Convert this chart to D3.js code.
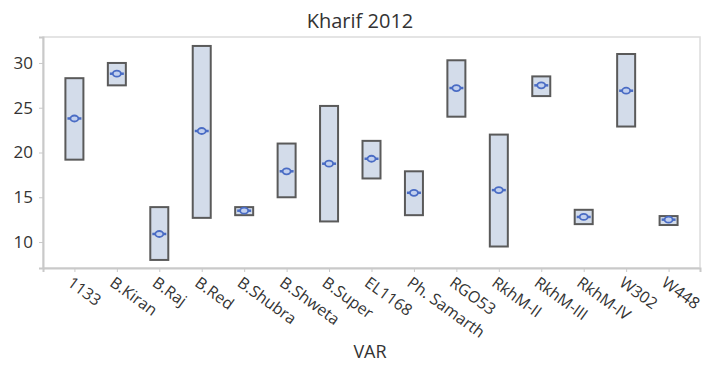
<!DOCTYPE html>
<html>
<head>
<meta charset="utf-8">
<script src="https://cdn.jsdelivr.net/npm/d3@7"></script>
<style>
  html, body { margin: 0; padding: 0; background: #fff; }
  svg { display: block; font-family: "Open Sans", "Noto Sans", sans-serif; }
</style>
</head>
<body>
<svg id="chart" width="704" height="365"></svg>
<script>
// Interval plot: range (low–high) box and mean marker per variety
const varieties = ["1133", "B.Kiran", "B.Raj", "B.Red", "B.Shubra", "B.Shweta", "B.Super",
  "EL1168", "Ph. Samarth", "RGO53", "RkhM-II", "RkhM-III", "RkhM-IV", "W302", "W448"];
const lowValues  = [19.2, 27.5,  8.0, 12.7, 13.0, 15.0, 12.3, 17.1, 13.0, 24.0,  9.5, 26.3, 12.0, 22.9, 11.9];
const highValues = [28.3, 30.0, 13.9, 31.9, 13.9, 21.0, 25.2, 21.3, 17.9, 30.3, 22.0, 28.5, 13.6, 31.0, 12.9];
const meanValues = [23.8, 28.8, 10.9, 22.4, 13.5, 17.9, 18.75, 19.3, 15.5, 27.2, 15.8, 27.5, 12.8, 26.9, 12.5];
const yTicks = [10, 15, 20, 25, 30];
const titleText = "Kharif 2012";
const xTitle = "VAR";

const rows = varieties.map((v, i) => ({ name: v, lo: lowValues[i], hi: highValues[i], mean: meanValues[i] }));

const svg = d3.select("#chart");
const plot = { left: 43, right: 700, top: 37, bottom: 268 };

const x = d3.scalePoint().domain(varieties).range([plot.left, plot.right]).padding(0.74);
const y = d3.scaleLinear().domain([7.1, 32.9]).range([plot.bottom, plot.top]);

// plot frame
svg.append("rect")
  .attr("x", plot.left).attr("y", plot.top)
  .attr("width", plot.right - plot.left).attr("height", plot.bottom - plot.top)
  .attr("fill", "#fff").attr("stroke", "#dcdcdc").attr("stroke-width", 1.5);

// axes
const yAxis = svg.append("g")
  .attr("transform", `translate(${plot.left},0)`)
  .call(d3.axisLeft(y).tickValues(yTicks).tickSize(4).tickPadding(6).tickFormat(d3.format("d")));
yAxis.select(".domain").attr("stroke", "#c9c9c9").attr("stroke-width", 2);
yAxis.selectAll(".tick line").attr("stroke", "#c9c9c9");
yAxis.selectAll(".tick text").attr("font-size", 17).attr("fill", "#333")
  .attr("font-family", "Open Sans, sans-serif");

const xAxis = svg.append("g")
  .attr("transform", `translate(0,${plot.bottom})`)
  .call(d3.axisBottom(x).tickSize(4).tickFormat(""));
xAxis.select(".domain").attr("stroke", "#c9c9c9").attr("stroke-width", 2);
xAxis.selectAll(".tick line").attr("stroke", "#c9c9c9");

// rotated category labels
svg.append("g").selectAll("text")
  .data(varieties)
  .join("text")
  .attr("transform", d => `translate(${x(d) - 8},${plot.bottom + 17}) rotate(36)`)
  .attr("text-anchor", "start")
  .attr("font-size", 16)
  .attr("fill", "#333")
  .text(d => d);

// interval boxes
const boxW = 18;
const g = svg.append("g");
g.selectAll("rect.box")
  .data(rows)
  .join("rect")
  .attr("class", "box")
  .attr("x", d => x(d.name) - boxW / 2)
  .attr("width", boxW)
  .attr("y", d => y(d.hi))
  .attr("height", d => y(d.lo) - y(d.hi))
  .attr("fill", "#d3dcea")
  .attr("stroke", "#5a5a5a")
  .attr("stroke-width", 2);

// mean markers: short bar with an open oval at the mean
g.selectAll("line.mean")
  .data(rows)
  .join("line")
  .attr("class", "mean")
  .attr("x1", d => x(d.name) - boxW / 2 + 2)
  .attr("x2", d => x(d.name) + boxW / 2 - 2)
  .attr("y1", d => y(d.mean))
  .attr("y2", d => y(d.mean))
  .attr("stroke", "#4a6cc4")
  .attr("stroke-width", 2.5);
g.selectAll("ellipse.meanpt")
  .data(rows)
  .join("ellipse")
  .attr("class", "meanpt")
  .attr("cx", d => x(d.name))
  .attr("cy", d => y(d.mean))
  .attr("rx", 4)
  .attr("ry", 3)
  .attr("fill", "#c2d0ee")
  .attr("stroke", "#4a6cc4")
  .attr("stroke-width", 1.8);

// titles
svg.append("text")
  .attr("x", 360).attr("y", 28)
  .attr("text-anchor", "middle")
  .attr("font-size", 20).attr("fill", "#333")
  .text(titleText);

svg.append("text")
  .attr("x", 370).attr("y", 358)
  .attr("text-anchor", "middle")
  .attr("font-size", 18).attr("fill", "#333")
  .text(xTitle);
</script>
</body>
</html>
